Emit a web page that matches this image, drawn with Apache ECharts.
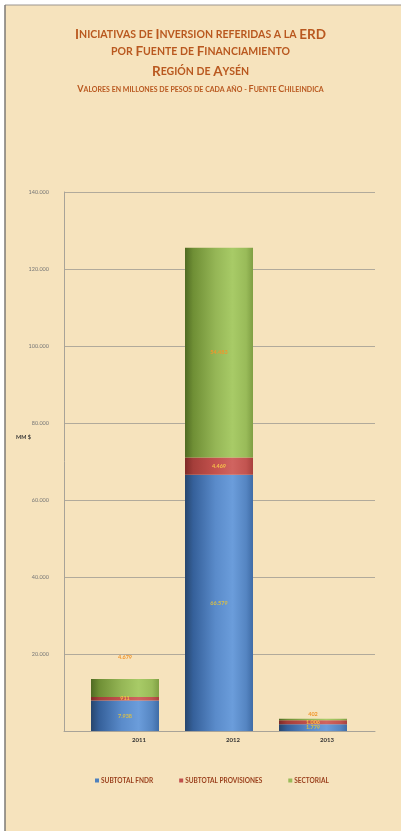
<!DOCTYPE html>
<html>
<head>
<meta charset="utf-8">
<script src="https://cdn.jsdelivr.net/npm/echarts@6/dist/echarts.min.js"></script>
<style>
html,body{margin:0;padding:0;background:#ffffff;}
#c{width:401px;height:831px;}
</style>
</head>
<body>
<div id="c"></div>
<script>
// ---- data ----
var categories = ['2011', '2012', '2013'];
var fndr = [7938, 66579, 1779];
var provisiones = [911, 4469, 1006];
var sectorial = [4679, 54483, 402];
var seriesNames = ['SUBTOTAL FNDR', 'SUBTOTAL PROVISIONES', 'SECTORIAL'];
var yMin = 0, yMax = 140000, yStep = 20000;

function fmt(v) {
  var s = String(Math.round(v));
  return s.replace(/\B(?=(\d{3})+(?!\d))/g, '.');
}

var chart = echarts.init(document.getElementById('c'), null, {renderer: 'canvas'});

var titleColor = '#b9581f';
var FONT = 'Lato, "Open Sans", sans-serif';

function smallCaps(text, styleBig, styleSmall) {
  var out = '';
  var words = text.split(' ');
  words.forEach(function (w, i) {
    if (i > 0) out += '{s| }';
    var first = w.charAt(0);
    var rest = w.slice(1);
    if (/[A-ZÁÉÍÓÚÑ]/.test(first)) {
      out += '{' + styleBig + '|' + first + '}';
      if (rest.length) {
        if (rest === rest.toUpperCase() && /[A-Z]/.test(rest)) out += '{' + styleBig + '|' + rest + '}';
        else out += '{' + styleSmall + '|' + rest.toUpperCase() + '}';
      }
    } else {
      out += '{' + styleSmall + '|' + w.toUpperCase() + '}';
    }
  });
  return out;
}

function richSet(big, small) {
  return {
    b: {fontSize: big, fontWeight: 'bold', fill: titleColor, fontFamily: FONT},
    m: {fontSize: small, fontWeight: 'bold', fill: titleColor, fontFamily: FONT},
    s: {fontSize: small, fill: titleColor, fontFamily: FONT}
  };
}

function gradient(stops) {
  return new echarts.graphic.LinearGradient(0, 0, 1, 0, stops.map(function (c) {
    return {offset: c[0], color: c[1]};
  }));
}

var blueGrad = gradient([[0, '#27466d'], [0.12, '#35609a'], [0.45, '#5a8bca'], [0.7, '#6b9ddb'], [0.9, '#5585c2'], [1, '#3f6ca6']]);
var redGrad = gradient([[0, '#7e2a27'], [0.12, '#a43e3a'], [0.45, '#c4524e'], [0.7, '#d06460'], [0.9, '#c25450'], [1, '#a8413d']]);
var greenGrad = gradient([[0, '#4f6a22'], [0.12, '#6f8f35'], [0.45, '#95b656'], [0.7, '#a8cb67'], [0.9, '#99bb59'], [1, '#7f9f43']]);

function toData(arr, labelFn) {
  return arr.map(function (v, i) {
    var d = {value: v};
    var l = labelFn ? labelFn(i) : null;
    if (l) d.label = l;
    return d;
  });
}

var labelBase = {show: true, fontSize: 5.5, fontWeight: 'bold', fontFamily: FONT,
  formatter: function (p) { return fmt(p.value); }};

var option = {
  animation: false,
  backgroundColor: 'transparent',
  textStyle: {fontFamily: FONT},
  graphic: [
    {type: 'rect', shape: {x: 5, y: 5, width: 396, height: 826}, style: {fill: '#f6e3bd'}, z: -10},
    {type: 'line', shape: {x1: 5, y1: 5, x2: 401, y2: 5}, style: {stroke: '#9a9590', lineWidth: 1}, z: -9},
    {type: 'line', shape: {x1: 5, y1: 5, x2: 5, y2: 831}, style: {stroke: '#7d7a76', lineWidth: 1.5}, z: -9},
    {type: 'text', left: 'center', top: 28,
      style: {text: smallCaps('Iniciativas de Inversion referidas a la ERD', 'b', 'm'), rich: richSet(13.5, 10.5)}},
    {type: 'text', left: 'center', top: 45,
      style: {text: smallCaps('por Fuente de Financiamiento', 'b', 'm'), rich: richSet(13.5, 10.5)}},
    {type: 'text', left: 'center', top: 65,
      style: {text: smallCaps('Región de Aysén', 'b', 'm'), rich: richSet(13.5, 10.5)}},
    {type: 'text', left: 'center', top: 85,
      style: {text: smallCaps('Valores en millones de pesos de cada año - Fuente Chileindica', 'b', 'm'), rich: richSet(9, 7)}},
    {type: 'text', left: 16, top: 434,
      style: {text: 'MM $', fontSize: 5.5, fontWeight: 'bold', fill: '#333', fontFamily: FONT}}
  ],
  legend: {
    bottom: 42,
    left: 90,
    itemWidth: 4,
    itemHeight: 4,
    itemGap: 26,
    icon: 'rect',
    textStyle: {fontSize: 6.5, fontWeight: 'bold', color: '#9a3f1c', fontFamily: FONT, padding: [0, 0, 0, -3]},
    data: [
      {name: seriesNames[0], itemStyle: {color: '#4f81bd'}},
      {name: seriesNames[1], itemStyle: {color: '#c0504d'}},
      {name: seriesNames[2], itemStyle: {color: '#9bbb59'}}
    ]
  },
  grid: [
    {left: 64, right: 26, top: 192, bottom: 100},
    {left: 78, right: 41, top: 192, bottom: 100}
  ],
  xAxis: [
    {
      type: 'category', gridIndex: 0, data: categories,
      axisLine: {show: true, lineStyle: {color: '#a8a398', width: 1}},
      axisTick: {show: false}, axisLabel: {show: false}
    },
    {
      type: 'category', gridIndex: 1, data: categories,
      axisLine: {show: false}, axisTick: {show: false},
      axisLabel: {
        formatter: function (v) { return '{a|' + v + '}'; },
        rich: {a: {fontSize: 6, fontWeight: 'bold', color: '#333', fontFamily: FONT, padding: [0, 0, 0, 28]}},
        margin: 6
      }
    }
  ],
  yAxis: [
    {
      type: 'value', gridIndex: 0,
      min: yMin, max: yMax, interval: yStep,
      axisLine: {show: true, lineStyle: {color: '#a8a398', width: 1}},
      axisTick: {show: false},
      splitLine: {show: true, lineStyle: {color: '#b1aa9b', width: 1}},
      axisLabel: {
        margin: 15, fontSize: 5.5, color: '#777', fontFamily: FONT,
        formatter: function (v) { return v === 0 ? '' : fmt(v); }
      }
    },
    {
      type: 'value', gridIndex: 1,
      min: yMin, max: yMax, interval: yStep,
      axisLine: {show: false}, axisTick: {show: false},
      splitLine: {show: false}, axisLabel: {show: false}
    }
  ],
  series: [
    {
      name: seriesNames[0], type: 'bar', stack: 'tot', barWidth: 68,
      xAxisIndex: 1, yAxisIndex: 1,
      itemStyle: {color: blueGrad},
      label: Object.assign({}, labelBase, {position: 'inside', color: '#d9bf46'}),
      data: toData(fndr)
    },
    {
      name: seriesNames[1], type: 'bar', stack: 'tot', barWidth: 68,
      xAxisIndex: 1, yAxisIndex: 1,
      itemStyle: {color: redGrad},
      label: Object.assign({}, labelBase, {position: 'inside', color: '#f6c24a'}),
      data: toData(provisiones)
    },
    {
      name: seriesNames[2], type: 'bar', stack: 'tot', barWidth: 68,
      xAxisIndex: 1, yAxisIndex: 1,
      itemStyle: {color: greenGrad},
      label: Object.assign({}, labelBase, {position: 'inside', color: '#f0962c'}),
      data: toData(sectorial, function (i) {
        if (i === 0) return {position: 'top', distance: 19};
        if (i === 2) return {position: 'top', distance: 2};
        return null;
      })
    }
  ]
};

chart.setOption(option);
</script>
</body>
</html>
